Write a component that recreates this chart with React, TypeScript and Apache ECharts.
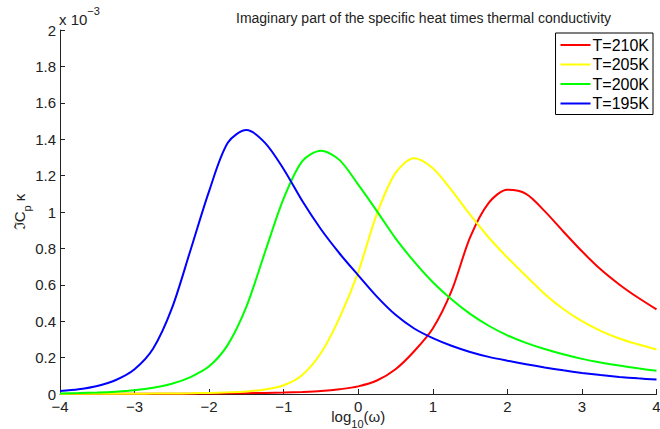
import React, { useEffect, useRef } from "react";
import * as echarts from "echarts";

// log10(omega) sample positions
const logOmega = [
  -4, -3.75, -3.5, -3.25, -3, -2.75, -2.5, -2.25, -2, -1.75, -1.5, -1.25, -1, -0.75, -0.5, -0.25,
  0, 0.25, 0.5, 0.75, 1, 1.25, 1.5, 1.75, 2, 2.25, 2.5, 2.75, 3, 3.25, 3.5, 3.75, 4,
];

// Im(Cp*kappa) in units of 1e-3
const t210 = [
  0.0003, 0.0004, 0.0005, 0.0007, 0.0009, 0.0012, 0.0016, 0.002, 0.0027, 0.0035, 0.0045, 0.006,
  0.008, 0.011, 0.016, 0.026, 0.042, 0.074, 0.136, 0.235, 0.36, 0.565, 0.86, 1.05, 1.122, 1.1,
  1.005, 0.893, 0.784, 0.685, 0.602, 0.53, 0.465,
];
const t205 = [
  0.0006, 0.0008, 0.001, 0.0013, 0.0017, 0.0023, 0.003, 0.004, 0.006, 0.009, 0.014, 0.025, 0.048,
  0.105, 0.225, 0.42, 0.67, 0.99, 1.215, 1.295, 1.24, 1.12, 0.985, 0.86, 0.75, 0.648, 0.55, 0.467,
  0.4, 0.347, 0.305, 0.273, 0.245,
];
const t200 = [
  0.003, 0.005, 0.008, 0.013, 0.021, 0.034, 0.056, 0.093, 0.152, 0.27, 0.48, 0.78, 1.075, 1.28,
  1.337, 1.285, 1.15, 1.005, 0.855, 0.727, 0.614, 0.52, 0.44, 0.375, 0.322, 0.281, 0.247, 0.218,
  0.193, 0.173, 0.156, 0.141, 0.128,
];
const t195 = [
  0.016, 0.026, 0.044, 0.077, 0.136, 0.25, 0.47, 0.79, 1.115, 1.38, 1.45, 1.38, 1.235, 1.06, 0.905,
  0.772, 0.652, 0.535, 0.435, 0.36, 0.307, 0.265, 0.231, 0.204, 0.183, 0.164, 0.146, 0.13, 0.116,
  0.104, 0.094, 0.086, 0.079,
];

const seriesNames = ["T=210K", "T=205K", "T=200K", "T=195K"];
const seriesColors = ["#ff0000", "#ffff00", "#00ff00", "#0000ff"];
const seriesValues = [t210, t205, t200, t195];

const FONT = "'Liberation Sans', Arial, Helvetica, sans-serif";

export default function App() {
  const ref = useRef<HTMLDivElement>(null);
  useEffect(() => {
    if (!ref.current) return;
    const chart = echarts.init(ref.current, undefined, { renderer: "svg" });
    const option: any = {
      animation: false,
      backgroundColor: "#ffffff",
      textStyle: { fontFamily: FONT },
      title: {
        text: "Imaginary part of the specific heat times thermal conductivity",
        left: 231,
        top: 6,
        textStyle: { fontSize: 14, fontWeight: "normal", color: "#222", fontFamily: FONT },
      },
      legend: {
        orient: "vertical",
        right: 7,
        top: 33,
        icon: "rect",
        itemWidth: 30,
        itemHeight: 2,
        itemGap: 3.5,
        padding: [4, 4, 3, 5],
        borderColor: "#000",
        borderWidth: 1,
        backgroundColor: "#fff",
        textStyle: { fontSize: 16, color: "#000", fontFamily: FONT, padding: [0, 0, 0, -3] },
        data: seriesNames,
      },
      graphic: [
        {
          type: "text",
          left: 59,
          top: 5,
          style: {
            text: "{a|x 10}{s|−3}",
            rich: {
              a: { fontSize: 15, fontFamily: FONT, fill: "#222", lineHeight: 22, verticalAlign: "bottom" },
              s: { fontSize: 11, fontFamily: FONT, fill: "#222", lineHeight: 12, verticalAlign: "top" },
            },
          },
        },
      ],
      grid: {
        left: 60,
        right: 3.5,
        top: 30,
        bottom: 35,
        containLabel: false,
        outerBoundsMode: "none",
      },
      xAxis: {
        type: "value",
        min: -4,
        max: 4,
        interval: 1,
        axisLine: { show: true, onZero: false, lineStyle: { color: "#222", width: 1 } },
        axisTick: { show: true, inside: true, length: 5, lineStyle: { color: "#222" } },
        splitLine: { show: false },
        axisLabel: {
          fontSize: 15,
          color: "#222",
          margin: 5,
          fontFamily: FONT,
          formatter: (v: number) => String(v).replace("-", "−"),
        },
        name: "{a|log}{s|10}{a|(ω)}",
        nameLocation: "middle",
        nameGap: 15,
        nameMoveOverlap: false,
        nameTextStyle: {
          rich: {
            a: { fontSize: 15, fontFamily: FONT, color: "#222", lineHeight: 20, verticalAlign: "top" },
            s: { fontSize: 11, fontFamily: FONT, color: "#222", lineHeight: 12, verticalAlign: "bottom" },
          },
        },
      },
      yAxis: {
        type: "value",
        min: 0,
        max: 2,
        interval: 0.2,
        axisLine: { show: true, onZero: false, lineStyle: { color: "#222", width: 1 } },
        axisTick: { show: true, inside: true, length: 5, lineStyle: { color: "#222" } },
        splitLine: { show: false },
        axisLabel: {
          fontSize: 15,
          color: "#222",
          margin: 4,
          fontFamily: FONT,
          formatter: (v: number) => String(+v.toFixed(1)),
        },
        name: "{a|ℑC}{s|p}{a| κ}",
        nameLocation: "middle",
        nameGap: 28,
        nameMoveOverlap: false,
        nameTextStyle: {
          rich: {
            a: { fontSize: 15, fontFamily: FONT, color: "#222", lineHeight: 20, verticalAlign: "top" },
            s: { fontSize: 11, fontFamily: FONT, color: "#222", lineHeight: 12, verticalAlign: "bottom" },
          },
        },
      },
      series: seriesNames.map((name, k) => ({
        name,
        type: "line",
        symbol: "none",
        smooth: 0.3,
        lineStyle: { color: seriesColors[k], width: 2 },
        itemStyle: { color: seriesColors[k] },
        data: logOmega.map((x, i) => [x, seriesValues[k][i]]),
        z: 2 + k,
      })),
    };
    chart.setOption(option);
    return () => chart.dispose();
  }, []);
  return (
    <div
      ref={ref}
      style={{ position: "fixed", left: 0, top: 0, width: 660, height: 429, background: "#fff" }}
    />
  );
}
